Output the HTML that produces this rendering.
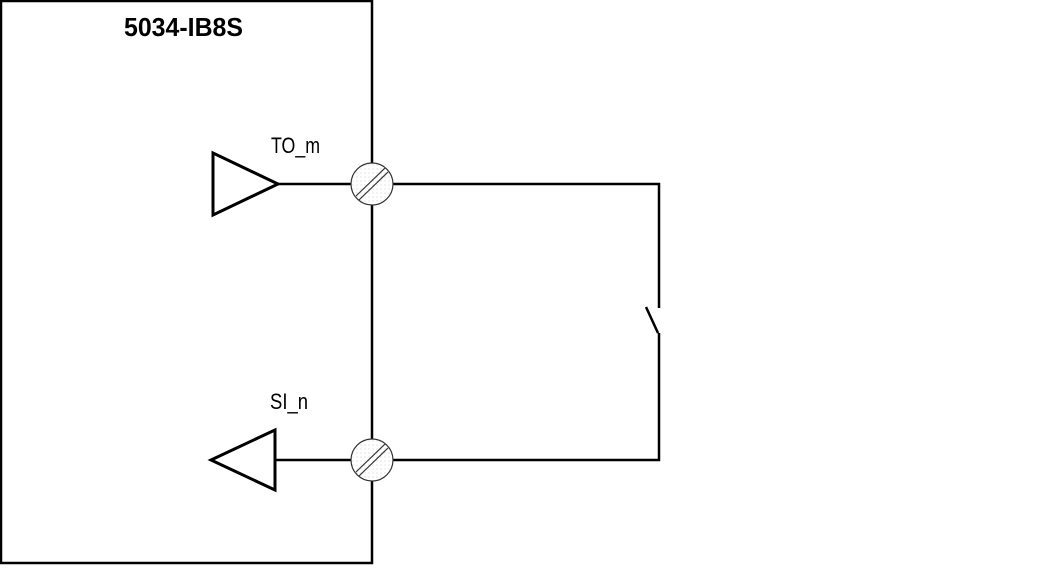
<!DOCTYPE html>
<html><head><style>html,body{margin:0;padding:0;background:#fff;width:1050px;height:571px;overflow:hidden}</style></head><body>
<svg width="1050" height="571" xmlns="http://www.w3.org/2000/svg">
<defs><pattern id="d" width="4" height="4" patternUnits="userSpaceOnUse"><rect width="4" height="4" fill="#fff"/><circle cx="1" cy="1" r="0.5" fill="#bbb"/></pattern></defs>
<g fill="none" stroke="#000" stroke-width="2.5">
<polygon points="1,1 372,1 372,563 1,563"/>
<polygon points="213,153 213,215 278,184" stroke-width="3"/>
<polygon points="211,460 275,430 275,490" stroke-width="3"/>
<line x1="278" y1="184" x2="352" y2="184"/>
<line x1="275" y1="460" x2="352" y2="460"/>
<polyline points="393,184 659,184 659,308"/>
<line x1="646" y1="307" x2="658" y2="333"/>
<polyline points="659,333 659,460 393,460"/>
</g>
<g stroke="#333" stroke-width="1.2">
<circle cx="372" cy="184" r="21" fill="url(#d)"/>
<circle cx="372" cy="460" r="21" fill="url(#d)"/>
<line x1="356" y1="196" x2="385" y2="168"/><line x1="359" y1="200" x2="388" y2="172"/>
<line x1="356" y1="472" x2="385" y2="444"/><line x1="359" y1="476" x2="388" y2="448"/>
</g>
<g font-family="Liberation Sans, sans-serif">
<text x="124" y="36" font-size="26" font-weight="bold" textLength="119" lengthAdjust="spacingAndGlyphs">5034-IB8S</text>
<text x="271" y="153" font-size="22" textLength="49" lengthAdjust="spacingAndGlyphs">TO_m</text>
<text x="270" y="409" font-size="22" textLength="38" lengthAdjust="spacingAndGlyphs">SI_n</text>
</g>
</svg>
</body></html>
